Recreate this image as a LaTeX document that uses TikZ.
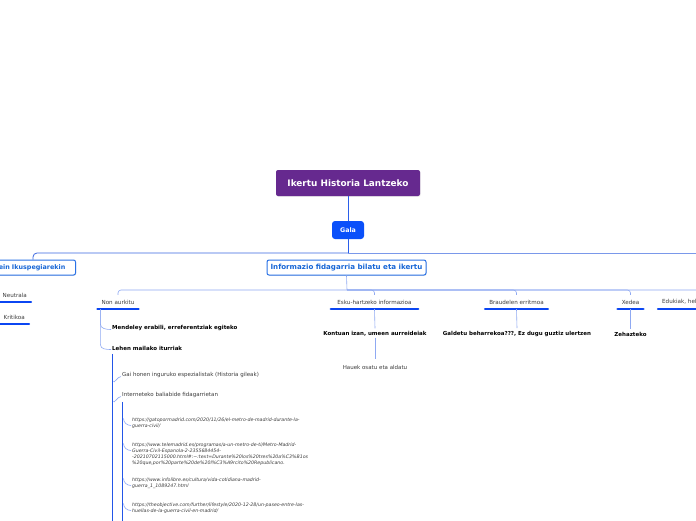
\documentclass[tikz,border=0pt]{standalone}
\usepackage{fontspec}
\setmainfont{DejaVu Sans}
\usetikzlibrary{shadows,calc}
\definecolor{rootpurple}{HTML}{66298F}
\definecolor{galablue}{HTML}{0A50FA}
\definecolor{boxblue}{HTML}{2A72E6}
\definecolor{boxtext}{HTML}{1766D6}
\definecolor{mainline}{HTML}{2B5FEA}
\definecolor{darkline}{HTML}{3A66E0}
\definecolor{midline}{HTML}{7A98EA}
\definecolor{lightline}{HTML}{8FA9F2}
\definecolor{ulblue}{HTML}{0B46F2}
\definecolor{trunkblue}{HTML}{2356E8}
\definecolor{txtgray}{HTML}{3C3C3C}
\begin{document}
\begin{tikzpicture}[x=1pt,y=-1pt,
  rootbox/.style={fill=rootpurple, text=white, font=\fontsize{8.9}{10.5}\selectfont\bfseries, minimum width=144pt, minimum height=26pt, rounded corners=2pt, inner sep=0pt, drop shadow={opacity=0.15, shadow xshift=0.6pt, shadow yshift=-0.8pt}},
  galabox/.style={fill=galablue, text=white, font=\fontsize{6.3}{7.5}\selectfont\bfseries, minimum width=32pt, minimum height=18pt, rounded corners=3pt, inner sep=0pt},
  topicbox/.style={draw=boxblue, line width=1pt, fill=white, text=boxtext, font=\fontsize{7.1}{8.2}\selectfont\bfseries, minimum height=15pt, rounded corners=2pt, inner xsep=3pt, inner ysep=0pt, drop shadow={opacity=0.18, shadow xshift=0.6pt, shadow yshift=-0.8pt}},
  ulnode/.style={text=txtgray, font=\fontsize{5.6}{6.6}\selectfont, minimum height=14pt, inner xsep=5pt, inner ysep=0pt},
  boldleaf/.style={text=black, font=\fontsize{5.5}{6.5}\selectfont\bfseries, inner sep=1pt},
  leaf/.style={text=txtgray, font=\fontsize{5.5}{6.5}\selectfont, inner sep=1pt},
  urlleaf/.style={text=txtgray, font=\fontsize{4.7}{6}\selectfont\itshape, align=left, inner sep=1pt},
  conn/.style={draw=lightline, line width=0.6pt},
  mainconn/.style={draw=mainline, line width=0.9pt},
  trunk/.style={draw=trunkblue, line width=1.2pt},
  uline/.style={draw=ulblue, line width=2.4pt, line cap=round, shorten <=1pt, shorten >=1pt}
]
\useasboundingbox (0,0) rectangle (696,520);
\clip (0,0) rectangle (696,520);
\fill[white] (0,0) rectangle (696,520);

% main nodes
\node[rootbox] (root) at (348,183) {Ikertu Historia Lantzeko};
\node[galabox] (gala) at (348,230) {Gala};
\node[topicbox, minimum width=159pt] (info) at (346.5,267.5) {Informazio fidagarria bilatu eta ikertu};
\node[topicbox, anchor=east, minimum width=100pt, text width=80pt, align=right, font=\fontsize{6.4}{7.5}\selectfont\bfseries] (left) at (76,267.5) {ein Ikuspegiarekin};

\coordinate (j1) at (348,253);
\coordinate (jr) at (696,253);
\coordinate (j2) at (347,290);
\coordinate (lc) at ([xshift=-43pt]left.north east);

\draw[mainconn] (root) -- (gala);
\draw[mainconn] (gala.south) -- (j1);
\draw[draw=darkline, line width=0.8pt, rounded corners=4pt] (j1) -| (lc);
\draw[draw=midline, line width=0.8pt] (j1) -- (jr);

% left side children
\node[ulnode, anchor=east] (neut) at (32,295) {Neutrala};
\node[ulnode, anchor=east] (krit) at (30,317) {Kritikoa};

% info children
\node[ulnode, minimum width=42pt] (non) at (118,302) {Non aurkitu};
\node[ulnode, minimum width=89pt] (esku) at (374.5,302) {Esku-hartzeko informazioa};
\node[ulnode, minimum width=63pt] (braud) at (516.5,302) {Braudelen erritmoa};
\node[ulnode, minimum width=27pt] (xedea) at (630.5,302) {Xedea};
\node[ulnode, anchor=west, minimum width=100pt, text width=90pt, align=left] (eduk) at (657,302) {Edukiak, hel};

\foreach \n in {neut,krit,non,esku,braud,xedea,eduk}
  \draw[uline] (\n.south west) -- (\n.south east);

\draw[conn] (info.south) -- (j2);
\foreach \n in {non,esku,braud,xedea,eduk}
  \draw[conn, rounded corners=3pt] (j2) -| (\n.north);

% Non aurkitu children
\node[boldleaf, anchor=west] (mend) at (111,328) {Mendeley erabili, erreferentziak egiteko};
\node[boldleaf, anchor=west] (lehen) at (111,348) {Lehen mailako iturriak};
\coordinate (nt) at ([xshift=4pt]non.south west);
\draw[conn] (nt) -- (nt |- mend.north) to[out=-90,in=180] ([yshift=-1.5pt]mend.west);
\draw[conn] (nt) -- (nt |- lehen.north) to[out=-90,in=180] ([yshift=-1.5pt]lehen.west);

% Lehen mailako iturriak children
\node[leaf, anchor=west] (gai) at (121,375) {Gai honen inguruko espezialistak (Historia gileak)};
\node[leaf, anchor=west] (inter) at (121,395) {Interneteko baliabide fidagarrietan};
\coordinate (t1) at ([xshift=1.5pt,yshift=-2.5pt]lehen.south west);
\draw[trunk] (t1) -- ++(0,200);
\draw[conn] ([xshift=1pt,yshift=-10pt]t1 |- gai.north) to[out=-90,in=180] ([yshift=-1.5pt]gai.west);
\draw[conn] ([xshift=1pt,yshift=-10pt]t1 |- inter.north) to[out=-90,in=180] ([yshift=-1.5pt]inter.west);

% Interneteko children
\node[urlleaf, anchor=north west] (u1) at (131,416.5) {https://gatopormadrid.com/2020/11/26/el-metro-de-madrid-durante-la-\\guerra-civil/};
\node[urlleaf, anchor=north west] (u2) at (131,441.5) {https://www.telemadrid.es/programas/a-un-metro-de-ti/Metro-Madrid-\\Guerra-Civil-Espanola-2-2355684454-\\-20210702115000.html\#:\textasciitilde:text=Durante\%20los\%20tres\%20a\%C3\%B1os\\\%20que,por\%20parte\%20de\%20l\%C3\%A9rcito\%20Republicano.};
\node[urlleaf, anchor=north west] (u3) at (131,476.5) {https://www.infolibre.es/cultura/vida-cotidiana-madrid-\\guerra\_1\_1089247.html};
\node[urlleaf, anchor=north west] (u4) at (131,501.5) {https://theobjective.com/further/lifestyle/2020-12-28/un-paseo-entre-las-\\huellas-de-la-guerra-civil-en-madrid/};
\coordinate (t2) at ([xshift=1.5pt,yshift=-3pt]inter.south west);
\draw[trunk] (t2) -- ++(0,150);
\foreach \u in {u1,u2,u3,u4}
  \draw[conn] ([xshift=1pt,yshift=-2pt]t2 |- \u.north) to[out=-90,in=180] ([yshift=-9pt]\u.north west);

% Esku-hartzeko children
\node[boldleaf] (kont) at (375,334) {Kontuan izan, umeen aurreideiak};
\node[leaf] (hauek) at (375,367) {Hauek osatu eta aldatu};
\draw[conn] (esku.south) -- ([yshift=2pt]kont.north);
\draw[conn, shorten >=5pt] (kont.south) -- (hauek.north);

% Braudelen children
\node[boldleaf] (gald) at (517,334) {Galdetu beharrekoa???, Ez dugu guztiz ulertzen};
\draw[conn] (braud.south) -- ([yshift=2pt]gald.north);

% Xedea children
\node[boldleaf] (zeh) at (630.5,334) {Zehazteko};
\draw[conn] (xedea.south) -- ([yshift=2pt]zeh.north);
\end{tikzpicture}
\end{document}
